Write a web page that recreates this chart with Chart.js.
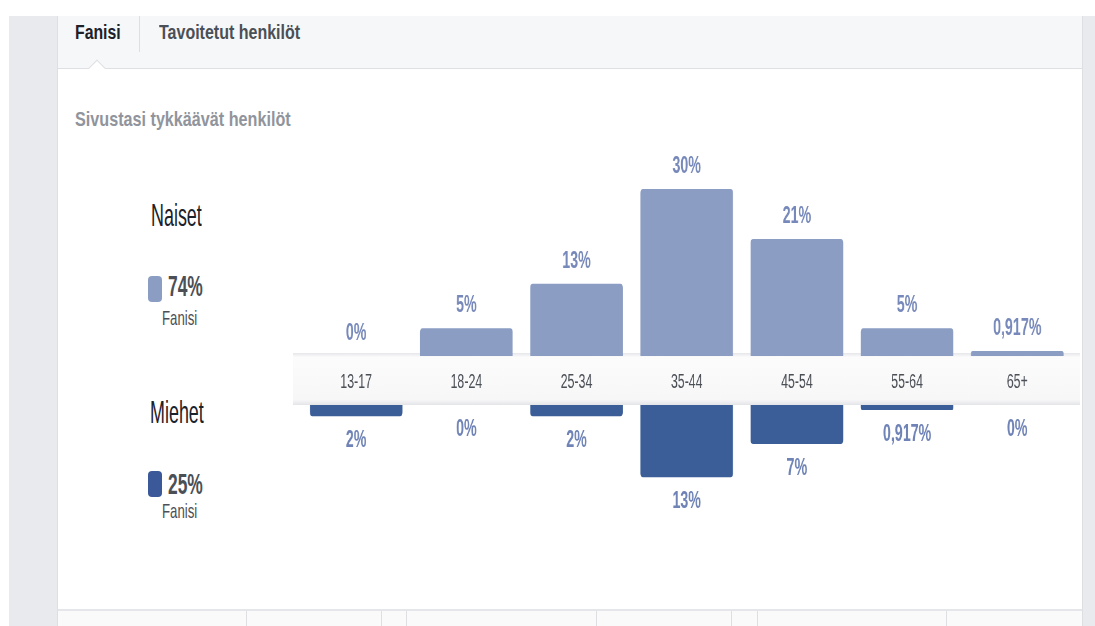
<!DOCTYPE html>
<html lang="fi">
<head>
<meta charset="utf-8">
<script src="https://cdn.jsdelivr.net/npm/chart.js@4.4.1/dist/chart.umd.min.js"></script>
<style>
  html, body { margin: 0; padding: 0; }
  body {
    width: 1095px; height: 626px; overflow: hidden; position: relative;
    background: #fff; font-family: "Liberation Sans", Arial, sans-serif;
  }
  .box { position: absolute; }
  .t {
    position: absolute; white-space: nowrap; display: inline-block;
    transform-origin: left center;
  }
  .swatch { position: absolute; width: 14px; height: 26px; border-radius: 4px; }
  /* the source screenshot is squeezed horizontally, so the canvases are too */
  canvas.squeezed { position: absolute; transform-origin: 0 0; }
</style>
</head>
<body>
  <!-- page frame -->
  <div class="box" style="left:9px;top:16px;width:48px;height:610px;background:#e9eaed"></div>
  <div class="box" style="left:1082px;top:16px;width:13px;height:610px;background:#e9eaed;border-left:1px solid #dddfe2"></div>
  <div class="box" style="left:57px;top:16px;width:1024px;height:610px;background:#fff;border-left:1px solid #dddfe2"></div>

  <!-- tab bar -->
  <div class="box" style="left:58px;top:16px;width:1024px;height:52px;background:#f6f7f9;border-bottom:1px solid #dddfe2"></div>
  <div class="box" style="left:139px;top:16px;width:1px;height:36px;background:#dddfe2"></div>
  <div class="box" style="left:91px;top:62px;width:11px;height:11px;background:#fff;border-left:1px solid #dddfe2;border-top:1px solid #dddfe2;transform:rotate(45deg)"></div>
  <div class="t" style="left:75px;top:22px;font-size:20px;line-height:20px;font-weight:bold;color:#1d2129;transform:scaleX(0.79)">Fanisi</div>
  <div class="t" style="left:159px;top:22px;font-size:20px;line-height:20px;font-weight:bold;color:#4b4f56;transform:scaleX(0.8)">Tavoitetut henkilöt</div>

  <!-- section title -->
  <div class="t" style="left:75px;top:108px;font-size:21px;line-height:21px;font-weight:bold;color:#90949c;transform:scaleX(0.77)">Sivustasi tykkäävät henkilöt</div>

  <!-- legend -->
  <div class="t" style="left:151px;top:199px;font-size:32px;line-height:32px;color:#1d2129;transform:scaleX(0.56)">Naiset</div>
  <div class="swatch" style="left:148px;top:276px;background:#8b9dc3"></div>
  <div class="t" style="left:168px;top:271px;font-size:30px;line-height:30px;font-weight:bold;color:#4b4f56;transform:scaleX(0.58)">74%</div>
  <div class="t" style="left:162px;top:307px;font-size:21px;line-height:21px;color:#4b4f56;transform:scaleX(0.63)">Fanisi</div>

  <div class="t" style="left:150px;top:396px;font-size:32px;line-height:32px;color:#1d2129;transform:scaleX(0.56)">Miehet</div>
  <div class="swatch" style="left:148px;top:471px;background:#3b5998"></div>
  <div class="t" style="left:168px;top:469px;font-size:30px;line-height:30px;font-weight:bold;color:#4b4f56;transform:scaleX(0.58)">25%</div>
  <div class="t" style="left:162px;top:500px;font-size:21px;line-height:21px;color:#4b4f56;transform:scaleX(0.63)">Fanisi</div>

  <!-- charts -->
  <canvas id="womenChart" class="squeezed" width="1270" height="265" style="left:293px;top:140px;transform:scaleX(0.62)"></canvas>
  <canvas id="menChart" class="squeezed" width="1270" height="200" style="left:293px;top:405px;transform:scaleX(0.62)"></canvas>

  <!-- footer -->
  <div class="box" style="left:58px;top:609px;width:1024px;height:17px;background:#fafafa;border-top:2px solid #e5e6e9"></div>
  <div class="box" style="left:246px;top:611px;width:1px;height:15px;background:#dddfe2"></div>
  <div class="box" style="left:381px;top:611px;width:1px;height:15px;background:#dddfe2"></div>
  <div class="box" style="left:406px;top:611px;width:1px;height:15px;background:#dddfe2"></div>
  <div class="box" style="left:596px;top:611px;width:1px;height:15px;background:#dddfe2"></div>
  <div class="box" style="left:731px;top:611px;width:1px;height:15px;background:#dddfe2"></div>
  <div class="box" style="left:757px;top:611px;width:1px;height:15px;background:#dddfe2"></div>
  <div class="box" style="left:946px;top:611px;width:1px;height:15px;background:#dddfe2"></div>

<script>
// Age distribution of page fans (Facebook insights style)

const ageGroups = ['13-17', '18-24', '25-34', '35-44', '45-54', '55-64', '65+'];
const womenPct = [0, 5, 13, 30, 21, 5, 0.917];
const menPct = [2, 0, 2, 13, 7, 0.917, 0];
const maxPct = 30;

Chart.defaults.font.family = '"Liberation Sans", Arial, sans-serif';

// Finnish number format: comma decimal separator
function fmtPct(v) {
    return String(v).replace('.', ',') + '%';
}

// Draw the percentage above / below every bar
const valueLabels = {
    id: 'valueLabels',
    afterDatasetsDraw(chart, args, opts) {
        const ctx = chart.ctx;
        const meta = chart.getDatasetMeta(0);
        const data = chart.data.datasets[0].data;
        ctx.save();
        ctx.fillStyle = opts.color;
        ctx.font = 'bold 23px "Liberation Sans", Arial, sans-serif';
        ctx.textAlign = 'center';
        ctx.textBaseline = 'alphabetic';
        meta.data.forEach((bar, i) => {
            ctx.fillText(fmtPct(data[i]), bar.x, bar.y + opts.offset);
        });
        ctx.restore();
    }
};

// Light strip behind the age labels (drawn before the axis and the bars)
const labelBand = {
    id: 'labelBand',
    beforeDraw(chart) {
        const ctx = chart.ctx;
        const top = chart.chartArea.bottom - 3;
        const h = chart.height - top;
        const g = ctx.createLinearGradient(0, top, 0, top + h);
        g.addColorStop(0, '#e6e7ea');
        g.addColorStop(0.08, '#fcfcfc');
        g.addColorStop(0.9, '#f7f7f8');
        g.addColorStop(1, '#e4e5e8');
        ctx.save();
        ctx.fillStyle = g;
        ctx.fillRect(0, top, chart.width, h);
        ctx.restore();
    }
};

const commonOptions = {
    responsive: false,
    animation: false,
    plugins: {
        legend: { display: false },
        tooltip: { enabled: false }
    }
};

new Chart(document.getElementById('womenChart'), {
    type: 'bar',
    data: {
        labels: ageGroups,
        datasets: [{
            label: 'Naiset',
            data: womenPct,
            backgroundColor: '#8b9dc3',
            borderRadius: 4,
            categoryPercentage: 1,
            barPercentage: 0.84
        }]
    },
    options: {
        ...commonOptions,
        layout: { padding: { left: 13, right: 13, top: 49, bottom: 0 } },
        plugins: {
            ...commonOptions.plugins,
            valueLabels: { color: '#7789ba', offset: -16 }
        },
        scales: {
            x: {
                grid: { display: false },
                border: { display: false },
                ticks: { color: '#4b4f56', font: { size: 20 }, padding: 6 },
                afterFit: (scale) => { scale.height = 49; }
            },
            y: { display: false, min: 0, max: maxPct }
        }
    },
    plugins: [labelBand, valueLabels]
});

new Chart(document.getElementById('menChart'), {
    type: 'bar',
    data: {
        labels: ageGroups,
        datasets: [{
            label: 'Miehet',
            data: menPct,
            backgroundColor: '#3b5e98',
            borderRadius: 4,
            categoryPercentage: 1,
            barPercentage: 0.84
        }]
    },
    options: {
        ...commonOptions,
        layout: { padding: { left: 13, right: 13, top: 0, bottom: 33 } },
        plugins: {
            ...commonOptions.plugins,
            valueLabels: { color: '#6f83b6', offset: 31 }
        },
        scales: {
            x: { display: false },
            y: { display: false, min: 0, max: maxPct, reverse: true }
        }
    },
    plugins: [valueLabels]
});
</script>
</body>
</html>
